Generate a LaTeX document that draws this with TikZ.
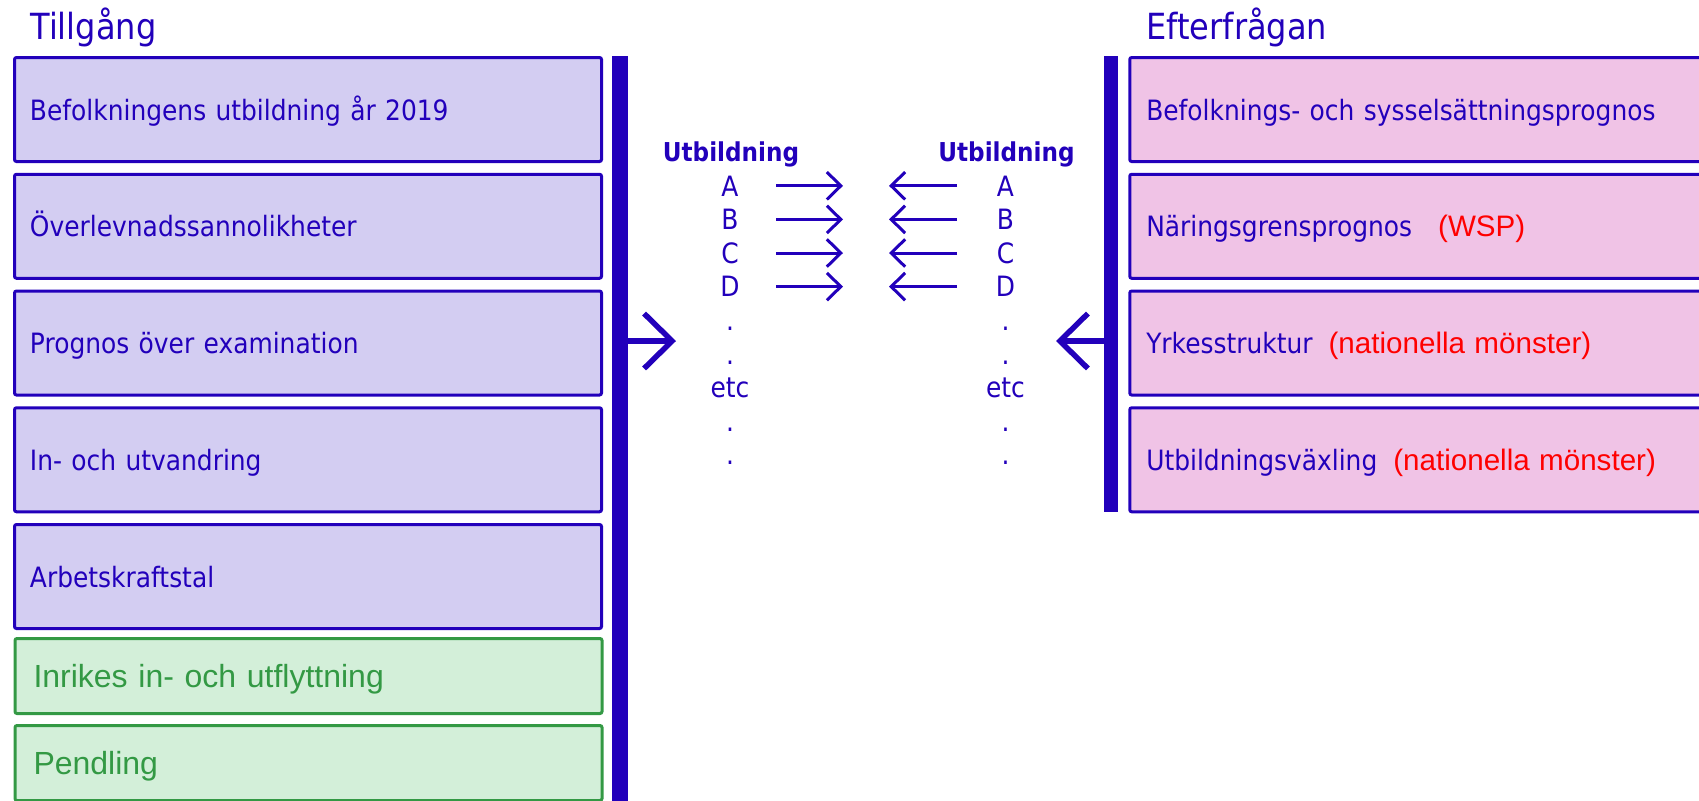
\documentclass[tikz,border=0pt]{standalone}
\usepackage{fontspec}
\setmainfont[FakeStretch=0.89]{DejaVu Sans}
\newfontfamily\notefont{Liberation Sans}
\usetikzlibrary{arrows.meta}

\definecolor{ink}{RGB}{34,0,187}
\definecolor{lilac}{RGB}{211,205,242}
\definecolor{rose}{RGB}{240,195,230}
\definecolor{leaf}{RGB}{51,153,68}
\definecolor{mint}{RGB}{211,239,217}
\definecolor{alert}{RGB}{255,0,0}

\newcommand{\remark}[1]{{\color{alert}\notefont\fontsize{14.8}{17}\selectfont #1}}

\tikzset{
	supply/.style={draw=ink, fill=lilac, line width=1.5pt, rounded corners=1pt, minimum width=293.5pt, minimum height=52pt, text width=278pt, inner xsep=7.75pt, text height=10.5pt, text depth=0pt, align=left, text=ink, font=\fontsize{14}{17}\selectfont},
	flow/.style={supply, draw=leaf, fill=mint, text=leaf, minimum height=37.5pt, text width=275pt, inner xsep=9.25pt, text height=11.7pt, font=\notefont\fontsize{16}{19}\selectfont},
	demand/.style={supply, fill=rose, minimum width=295pt, text width=278.5pt, inner xsep=8.25pt},
	bar/.style={fill=ink, inner sep=0pt},
	title/.style={anchor=base west, inner sep=0pt, text=ink, font=\fontsize{18}{21}\selectfont},
	head/.style={anchor=base, inner sep=0pt, text=ink, font=\bfseries\fontsize{13}{15}\selectfont},
	letter/.style={anchor=base, inner sep=0pt, text=ink, font=\fontsize{14}{16}\selectfont},
	bigarrow/.style={draw=ink, line width=2.75pt, -{Straight Barb[length=14pt, width=27.5pt]}},
	smallarrow/.style={draw=ink, line width=1.5pt, -{Straight Barb[length=7pt, width=13.7pt]}}
}

\begin{document}
\begin{tikzpicture}[x=0.5pt, y=-0.5pt]
	\useasboundingbox (0,0) rectangle (1699,800);

	% rubriker
	\node[title] (supplytitle) at (30,39.3) {Tillgång};
	\node[title] (demandtitle) at (1146,39.3) {Efterfrågan};

	% tillgång
	\node[supply] (s1) at (308,109.5) {Befolkningens utbildning år 2019};
	\node[supply] (s2) at (308,226.25) {Överlevnadssannolikheter};
	\node[supply] (s3) at (308,343) {Prognos över examination};
	\node[supply] (s4) at (308,459.75) {In- och utvandring};
	\node[supply] (s5) at (308,576.5) {Arbetskraftstal};
	\node[flow] (s6) at (308.5,676) {Inrikes in- och utflyttning};
	\node[flow] (s7) at (308.5,763) {Pendling};

	% efterfrågan
	\node[demand] (d1) at (1424.75,109.5) {Befolknings- och sysselsättningsprognos};
	\node[demand] (d2) at (1424.75,226.25) {Näringsgrensprognos\hspace{13pt}\remark{(WSP)}};
	\node[demand] (d3) at (1424.75,343) {Yrkesstruktur\hspace{8pt}\remark{(nationella mönster)}};
	\node[demand] (d4) at (1424.75,459.75) {Utbildningsväxling\hspace{8pt}\remark{(nationella mönster)}};

	% staplar
	\node[bar, minimum width=8pt, minimum height=374.5pt] (lbar) at (620,430.5) {};
	\node[bar, minimum width=7pt, minimum height=228pt] (rbar) at (1111,284) {};

	% utbildningar
	\node[head] (lhead) at (731,161.7) {Utbildning};
	\node[head] (rhead) at (1006.5,161.7) {Utbildning};
	\foreach \t [count=\i from 0] in {A,B,C,D,.,.,etc,.,.} {
		\node[letter] (ll\i) at (730,{196+33.6*\i}) {\t};
		\node[letter] (rl\i) at (1005.5,{196+33.6*\i}) {\t};
	}

	% pilar
	\coordinate (ltip) at (676,341);
	\coordinate (rtip) at (1056,341);
	\draw[bigarrow] (lbar.east |- ltip) -- (ltip);
	\draw[bigarrow] (rbar.west |- rtip) -- (rtip);

	\coordinate (lstart) at (776,0);
	\coordinate (rstart) at (957,0);
	\foreach \i in {0,...,3} {
		\draw[smallarrow] (lstart |- ll\i) -- ++(67,0);
		\draw[smallarrow] (rstart |- rl\i) -- ++(-68,0);
	}
\end{tikzpicture}
\end{document}
